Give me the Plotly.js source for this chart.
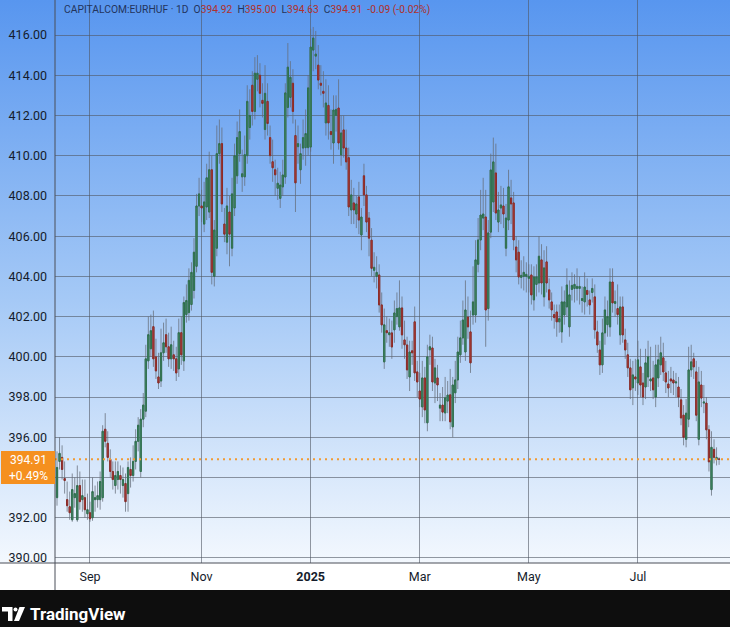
<!DOCTYPE html>
<html><head><meta charset="utf-8">
<script src="https://cdn.plot.ly/plotly-3.0.1.min.js"></script>
<style>
html,body{margin:0;padding:0;background:#fff;}
#wrap{position:relative;width:730px;height:627px;background:linear-gradient(to bottom,#5896ef 0px,#a5c9f6 300px,#f3f8fe 563px,#ffffff 563px,#ffffff 590px,#0e0e0e 590px,#0e0e0e 627px);}
#chart{width:730px;height:627px;}
</style></head><body><div id="wrap"><div id="chart"></div></div>
<script>
// ---- data (EUR/HUF daily) ----
const symbol = 'CAPITALCOM:EURHUF';
const interval = '1D';
const startDate = '2024-08-14';
const openP = [393.0,394.8,395.0,393.95,392.9,392.55,391.9,393.0,391.9,393.6,392.9,393.0,392.2,392.25,392.0,392.9,392.9,392.9,393.0,396.4,
395.7,394.9,394.3,393.6,393.9,394.1,393.6,393.7,393.2,394.4,394.1,394.8,395.8,394.3,396.9,397.3,399.8,400.4,401.5,400.0,
399.0,398.8,400.2,401.1,400.5,399.9,400.1,399.9,399.4,401.2,399.8,402.1,402.2,402.6,403.3,404.5,407.5,407.5,406.6,407.45,
407.2,409.3,404.0,405.4,410.1,410.6,406.6,405.7,407.2,405.4,407.4,409.0,410.1,408.95,408.95,410.0,411.4,413.5,412.2,413.8,
414.0,412.75,411.3,412.7,410.9,409.7,409.3,408.38,407.88,408.45,408.94,412.4,412.9,413.6,411.0,410.45,409.3,410.38,410.4,410.4,
410.43,415.25,414.95,414.5,413.6,413.2,411.63,412.5,411.2,410.63,412.0,412.37,410.04,411.28,410.38,409.9,407.3,407.65,407.1,407.95,
406.06,409.0,408.05,406.9,405.8,404.3,404.0,404.07,402.58,399.75,401.3,401.1,401.19,401.34,402.0,401.49,402.43,400.84,400.59,399.0,
400.3,401.74,399.25,398.3,397.51,398.95,396.72,400.35,400.44,398.7,398.95,397.45,397.6,397.21,397.8,398.11,396.52,398.21,398.85,400.1,
400.94,400.24,401.98,401.24,402.08,402.08,404.6,405.81,406.9,406.95,402.4,406.2,407.7,409.14,406.7,407.4,407.5,405.4,406.8,407.9,
407.65,405.46,405.2,403.95,404.0,404.0,403.9,404.07,402.83,403.6,403.67,404.82,402.98,404.72,403.33,402.73,402.1,402.23,401.74,401.24,
402.08,402.48,401.49,403.35,403.4,403.4,403.4,402.8,402.73,403.3,402.83,403.2,402.98,401.24,400.34,399.6,401.19,401.6,401.49,403.72,
402.65,402.4,401.09,402.48,400.84,400.1,399.45,398.46,399.0,398.7,399.5,398.7,398.5,399.0,398.8,398.95,398.0,398.95,399.6,399.95,
399.2,398.65,398.9,398.85,398.7,398.5,397.86,397.1,395.9,396.9,399.35,399.9,399.25,395.9,398.6,397.7,397.7,396.37,393.4,395.4,
394.9,394.92];
const highP = [395.3,396.0,395.6,394.8,393.8,393.3,394.2,394.0,394.6,394.3,393.9,393.9,393.2,392.8,394.0,393.6,393.8,394.3,396.6,397.2,
396.3,395.4,394.8,394.8,394.8,394.6,394.5,394.2,394.8,395.0,395.6,396.4,397.0,397.4,398.2,400.6,402.0,402.1,402.3,400.9,
400.2,401.4,401.7,401.9,401.2,401.5,400.8,400.5,401.9,402.0,403.0,403.6,404.4,404.7,405.9,408.1,408.9,408.3,408.7,409.6,
410.2,410.0,406.8,411.5,411.8,411.4,407.4,408.4,408.0,408.9,410.6,411.7,412.3,410.3,411.0,413.5,413.3,414.2,414.9,415.0,
414.6,413.6,414.5,413.6,411.5,410.8,409.8,409.4,409.2,409.8,413.6,415.6,414.7,414.3,411.8,411.5,410.6,411.8,412.3,414.0,
416.3,416.4,416.2,415.5,414.5,414.2,413.8,413.5,412.3,413.0,413.0,413.8,412.0,412.0,411.3,410.4,408.8,408.4,408.0,408.7,
407.4,409.6,408.5,407.2,406.4,405.2,405.0,404.6,403.2,402.4,402.0,401.9,401.8,402.8,403.2,403.8,403.0,401.8,401.0,400.8,
400.8,402.5,399.8,399.2,399.8,399.5,400.6,401.1,401.0,399.9,399.6,398.2,398.5,399.0,398.8,399.4,399.0,399.8,401.0,401.8,
402.8,403.8,403.0,402.3,404.5,405.8,406.9,408.3,408.9,408.3,406.8,410.1,410.9,410.6,408.2,408.5,408.4,407.6,409.3,408.8,
408.2,406.0,405.8,404.8,405.0,404.7,404.6,404.6,404.5,404.6,406.0,405.6,405.3,405.5,403.9,403.2,402.6,402.6,402.6,403.5,
403.3,404.4,403.8,404.2,404.1,404.4,404.0,403.5,404.2,403.9,403.3,403.9,403.6,401.8,400.8,401.9,403.0,402.8,404.4,404.4,
403.3,403.6,403.0,403.0,401.4,400.7,399.9,399.8,399.9,400.8,400.4,399.2,400.4,400.8,400.5,399.8,400.6,400.6,401.0,400.7,
399.8,399.3,399.5,399.3,399.2,399.0,398.4,397.6,397.9,400.5,400.6,400.2,399.8,399.5,399.3,398.6,398.0,396.6,396.3,395.9,
395.5,395.0];
const lowP = [392.6,394.4,393.9,393.2,392.3,391.9,391.8,392.5,391.8,392.4,392.3,392.0,391.9,391.8,391.85,392.3,392.5,392.4,392.8,395.5,
394.8,394.0,393.4,393.2,393.4,393.2,393.0,392.3,392.3,393.5,393.8,394.4,395.3,394.0,396.5,397.0,399.4,400.0,399.5,398.9,
398.4,398.5,399.8,400.2,399.5,399.4,399.3,398.8,399.0,399.6,399.3,401.7,401.8,402.3,402.9,404.2,407.0,406.7,406.2,406.8,
406.9,403.6,403.5,405.0,409.6,407.2,405.7,405.1,404.5,405.0,407.0,408.6,409.7,408.2,408.5,409.6,410.8,411.5,411.8,413.2,
412.4,411.9,410.8,411.0,409.6,408.7,408.0,407.8,407.4,408.0,408.6,411.9,412.4,411.6,407.2,409.6,408.6,409.8,409.5,410.0,
410.2,414.2,414.3,413.3,413.0,412.4,411.0,410.8,410.3,409.6,411.2,410.3,409.5,409.9,409.3,407.0,406.6,406.6,406.4,406.1,
405.3,407.5,406.2,405.0,404.0,403.7,403.4,402.2,401.2,399.4,400.7,400.5,399.9,400.7,401.6,401.3,400.4,399.9,398.9,398.3,
399.6,398.8,398.0,397.5,397.0,396.7,396.3,399.6,398.3,397.7,397.8,396.8,396.8,396.8,397.2,396.4,396.0,397.7,398.4,399.7,
400.6,399.8,400.9,399.2,401.6,401.7,404.2,405.3,406.3,400.5,401.8,405.9,407.2,406.8,406.2,406.6,406.4,405.0,406.3,406.6,
405.3,404.2,403.6,403.4,403.3,403.2,403.2,402.6,402.3,403.0,403.2,403.1,402.5,403.2,402.4,401.8,401.4,401.0,401.2,400.7,
401.6,402.0,401.0,402.8,402.7,402.8,402.6,402.2,402.1,402.5,402.1,402.7,400.9,400.2,399.1,399.2,400.6,401.0,401.0,402.2,
402.0,401.6,400.6,400.7,399.9,399.0,397.9,397.6,398.3,398.1,398.0,397.6,397.9,398.5,398.3,397.9,397.5,398.5,399.1,398.8,
398.2,398.0,398.2,398.1,398.0,397.5,396.6,395.6,395.5,396.5,399.0,398.9,396.8,395.6,397.5,397.2,395.9,394.3,393.1,394.7,
394.6,394.63];
const closeP = [394.5,395.2,394.4,393.85,392.6,392.25,393.4,393.2,393.6,392.8,393.1,392.4,392.4,391.95,393.3,393.0,393.1,393.8,396.3,395.8,
395.0,394.3,393.9,394.1,394.3,393.9,393.9,392.8,394.5,394.1,394.8,395.8,396.6,396.9,397.6,399.9,401.1,401.3,399.9,399.3,
398.7,400.2,400.7,400.5,399.9,400.6,399.9,399.2,401.2,400.1,402.7,402.8,403.8,404.2,405.2,407.5,408.1,407.4,407.7,408.9,
409.3,404.2,406.3,410.1,410.6,407.6,406.1,407.5,406.1,408.1,410.0,410.9,411.2,409.1,410.05,412.7,412.0,412.2,414.1,414.1,
413.1,412.6,413.1,411.6,410.0,409.4,409.05,408.63,408.54,409.04,413.12,414.4,413.9,412.2,408.65,410.6,410.1,410.9,411.1,413.37,
415.4,415.85,415.05,413.76,413.5,413.1,412.62,411.63,411.05,412.27,412.3,410.63,411.13,410.38,409.69,407.45,408.05,407.3,407.6,406.8,
406.95,408.05,406.7,405.9,404.4,404.45,404.2,402.58,401.59,401.59,401.2,401.2,400.49,402.18,402.4,402.43,401.09,400.6,399.35,400.24,
400.2,399.2,398.75,397.9,398.95,397.36,400.0,400.5,398.75,399.45,398.6,397.6,397.25,397.96,398.1,396.77,398.6,398.85,400.24,400.94,
401.83,402.33,401.49,399.7,402.73,404.82,405.81,407.05,407.1,402.33,406.16,409.29,409.69,407.15,407.3,407.55,407.1,406.9,408.45,407.6,
405.81,404.82,403.97,404.05,404.2,404.1,404.0,403.08,403.97,403.97,405.0,403.67,404.42,403.67,402.83,402.33,401.95,401.74,401.9,402.73,
402.73,403.57,403.08,403.55,403.6,403.5,403.5,402.9,403.47,403.1,402.58,403.4,401.34,400.59,399.6,401.19,402.33,402.0,403.72,402.68,
402.75,402.1,402.48,401.09,400.34,399.45,398.36,399.1,398.9,399.85,398.6,398.0,399.7,400.0,398.9,398.36,399.6,399.85,400.2,399.25,
398.75,398.45,398.8,398.7,398.75,398.0,396.96,396.0,397.2,399.35,399.75,399.5,397.1,398.75,397.95,397.75,396.37,394.78,395.5,395.0,
395.0,394.91];
const sideLabelPct = '+0.49%';
const tickDates = ['2024-09-02','2024-11-01','2025-01-01','2025-03-03','2025-05-01','2025-07-01'];
const tickLabels = ['Sep','Nov','<b>2025</b>','Mar','May','Jul'];
const yTicks = [390,392,394,396,398,400,402,404,406,408,410,412,414,416];
const yTicksHiddenByLabel = [394];

// ---- build ----
function tradingDays(start, n){
  const out=[]; const d=new Date(start+'T00:00:00Z');
  while(out.length<n){ const wd=d.getUTCDay(); if(wd!==0&&wd!==6) out.push(d.toISOString().slice(0,10)+' 12:00'); d.setUTCDate(d.getUTCDate()+1); }
  return out;
}
const dates = tradingDays(startDate, closeP.length);
const bodyHi = openP.map((o,i)=>Math.max(o,closeP[i]));
const bodyLo = openP.map((o,i)=>Math.min(o,closeP[i]));

const FONT = 'Roboto, "Liberation Sans", sans-serif';
const PW=675, PH=563, LM=55;
const px = x => (x-LM)/PW;
const py = y => (PH-y)/PH;

const wick = {type:'candlestick', x:dates, open:openP, high:highP, low:lowP, close:closeP,
  increasing:{line:{color:'rgba(100,108,120,0.75)',width:1}, fillcolor:'rgba(0,0,0,0)'},
  decreasing:{line:{color:'rgba(100,108,120,0.75)',width:1}, fillcolor:'rgba(0,0,0,0)'},
  hoverinfo:'skip', showlegend:false};
const body = {type:'candlestick', x:dates, open:openP, high:bodyHi, low:bodyLo, close:closeP,
  increasing:{line:{color:'#2e6f4d',width:1}, fillcolor:'#4c9572'},
  decreasing:{line:{color:'#8c2b27',width:1}, fillcolor:'#bb453e'},
  hoverinfo:'skip', showlegend:false};

const n = closeP.length-1;
const chg = closeP[n]-closeP[n-1];
const pct = chg/closeP[n-1]*100;
const red = '#b0302c';
const sp = '\u00a0\u00a0';
const fmt = v => v.toFixed(2);
const sign = v => (v>=0?'+':'')+v.toFixed(2);
const titleText = `${symbol} · ${interval}${sp}O<span style="color:${red}">${fmt(openP[n])}</span>${sp}H<span style="color:${red}">${fmt(highP[n])}</span>${sp}L<span style="color:${red}">${fmt(lowP[n])}</span>${sp}C<span style="color:${red}">${fmt(closeP[n])}</span>${sp}<span style="color:${red}">${sign(chg)} (${sign(pct)}%)</span>`;

const shapes = [
  {type:'line', xref:'paper', yref:'y', x0:0, x1:1, y0:closeP[n], y1:closeP[n], line:{color:'#f29a33', width:2, dash:'2px,4px'}},
  {type:'line', xref:'paper', yref:'paper', x0:0, x1:0, y0:py(590), y1:1, line:{color:'#4a4f58', width:1}},
  {type:'line', xref:'paper', yref:'paper', x0:px(0), x1:1, y0:0, y1:0, line:{color:'#4a4f58', width:1}},
  {type:'rect', xref:'paper', yref:'paper', x0:px(1), x1:px(55), y0:py(484), y1:py(451), fillcolor:'#f5901f', line:{width:0}},
  // TradingView logo
  {type:'path', xref:'paper', yref:'paper', fillcolor:'#ffffff', line:{width:0},
   path:`M ${px(2)},${py(607)} L ${px(12.5)},${py(607)} L ${px(12.5)},${py(621)} L ${px(8)},${py(621)} L ${px(8)},${py(611.5)} L ${px(2)},${py(611.5)} Z`},
  {type:'circle', xref:'paper', yref:'paper', fillcolor:'#ffffff', line:{width:0},
   x0:px(13.5), x1:px(17.5), y0:py(611.5), y1:py(607.5)},
  {type:'path', xref:'paper', yref:'paper', fillcolor:'#ffffff', line:{width:0},
   path:`M ${px(19.5)},${py(607)} L ${px(25)},${py(607)} L ${px(19)},${py(621)} L ${px(14)},${py(621)} Z`}
];

const annotations = [
  {xref:'paper', yref:'paper', x:px(62), y:py(10), xanchor:'left', yanchor:'middle', showarrow:false,
   text:titleText, font:{family:FONT, size:10.3, color:'#23345c'}},
  {xref:'paper', yref:'paper', x:px(28), y:py(468), xanchor:'center', yanchor:'middle', showarrow:false,
   text:fmt(closeP[n])+'<br>'+sideLabelPct, font:{family:FONT, size:12, color:'#ffffff'}},
  {xref:'paper', yref:'paper', x:px(28), y:py(614), xanchor:'left', yanchor:'middle', showarrow:false,
   text:'<b>TradingView</b>', font:{family:FONT, size:17, color:'#ffffff'}}
];

const layout = {
  width:730, height:627, margin:{l:55, r:0, t:0, b:64, pad:0},
  paper_bgcolor:'rgba(0,0,0,0)', plot_bgcolor:'rgba(0,0,0,0)',
  showlegend:false, hovermode:false,
  font:{family:FONT, color:'#151c2c'},
  xaxis:{type:'date', range:['2024-08-13 17:00','2025-08-20 19:12'],
    rangebreaks:[{bounds:['sat','mon']}], rangeslider:{visible:false},
    tickmode:'array', tickvals:tickDates.map(d=>d+' 12:00'), ticktext:tickLabels,
    showgrid:true, gridcolor:'rgba(80,86,98,0.6)', gridwidth:1, ticks:'', ticklabelstandoff:4,
    tickfont:{family:FONT, size:12.5, color:'#151c2c'}, showline:false, zeroline:false, fixedrange:true},
  yaxis:{range:[389.75,417.74], tickmode:'array', tickvals:yTicks,
    ticktext:yTicks.map(v=>yTicksHiddenByLabel.includes(v)?'':v.toFixed(2)),
    showgrid:true, gridcolor:'rgba(80,86,98,0.6)', gridwidth:1, ticks:'', ticklabelstandoff:7,
    tickfont:{family:FONT, size:12.5, color:'#151c2c'}, showline:false, zeroline:false, fixedrange:true},
  shapes:shapes, annotations:annotations
};

Plotly.newPlot('chart', [wick, body], layout, {displayModeBar:false, staticPlot:true});
</script></body></html>
